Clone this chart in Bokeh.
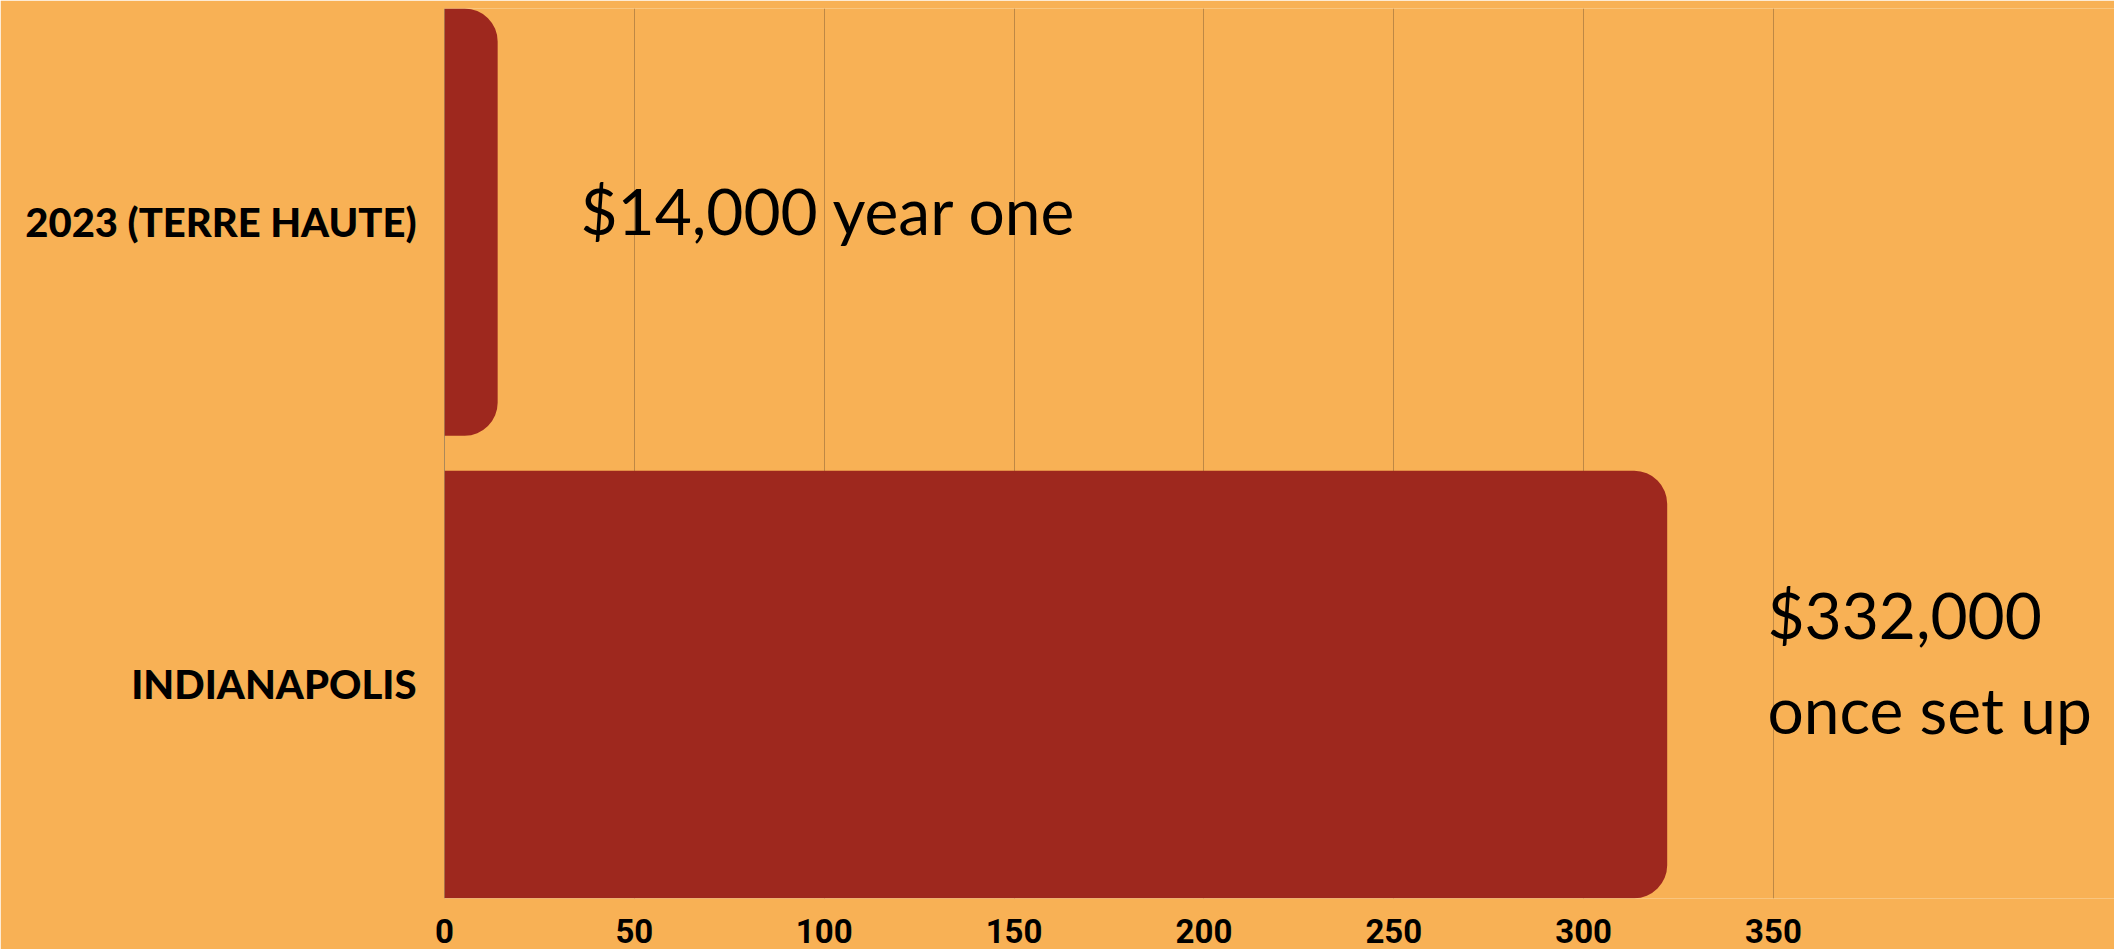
from bokeh.plotting import figure
from bokeh.models import Range1d, FixedTicker, Label, Span
from bokeh.embed import file_html
from bokeh.resources import INLINE

# ---- data ----
categories = ["INDIANAPOLIS", "2023 (TERRE HAUTE)"]
cat_pos = [0, 1]
values = [322, 14]           # thousands of dollars (bar lengths as drawn)
x_ticks = [0, 50, 100, 150, 200, 250, 300, 350]
note_lines = ["$14,000 year one", "$332,000", "once set up"]
note_x = [35.8, 348.4, 348.4]
note_y = [1.025, 0.152, -0.054]

BG = "#F8B155"
BAR = "#9E281E"
GRID = "#BE8845"

p = figure(width=2114, height=949,
           x_range=Range1d(0, 439.8), y_range=Range1d(-0.4627, 1.4616),
           output_backend="svg", toolbar_location=None,
           min_border_left=444, min_border_right=0,
           min_border_top=8, min_border_bottom=51)
p.background_fill_color = BG
p.border_fill_color = BG
p.outline_line_color = None

p.hbar(y=cat_pos, right=values, left=0, height=0.924, color=BAR,
       line_color=None, border_radius=(0, 33, 33, 0))

p.add_layout(Span(location=0, dimension="height", line_color="#5E4E36",
                  line_width=1, level="underlay"))

# axes
p.xaxis.ticker = FixedTicker(ticks=x_ticks)
p.xaxis.axis_line_color = None
p.xaxis.major_tick_line_color = None
p.xaxis.minor_tick_line_color = None
p.xaxis.major_label_text_font = "Roboto"
p.xaxis.major_label_text_font_style = "bold"
p.xaxis.major_label_text_font_size = "33px"
p.xaxis.major_label_text_color = "black"
p.xaxis.major_label_standoff = 14

p.yaxis.ticker = FixedTicker(ticks=cat_pos)
p.yaxis.major_label_overrides = {c: n for c, n in zip(cat_pos, categories)}
p.yaxis.axis_line_color = None
p.yaxis.major_tick_line_color = None
p.yaxis.minor_tick_line_color = None
p.yaxis.major_label_text_font = "Lato Black"
p.yaxis.major_label_text_font_style = "bold"
p.yaxis.major_label_text_font_size = "40px"
p.yaxis.major_label_text_color = "black"
p.yaxis.major_label_standoff = 22

p.xgrid.grid_line_color = GRID
p.xgrid.grid_line_width = 1
p.ygrid.grid_line_color = None

for t, x, y in zip(note_lines, note_x, note_y):
    p.add_layout(Label(x=x, y=y, text=t, text_font="Lato",
                       text_font_size="64px", text_color="black",
                       text_baseline="alphabetic", text_align="left"))

open("out.html", "w").write(file_html(p, INLINE))
